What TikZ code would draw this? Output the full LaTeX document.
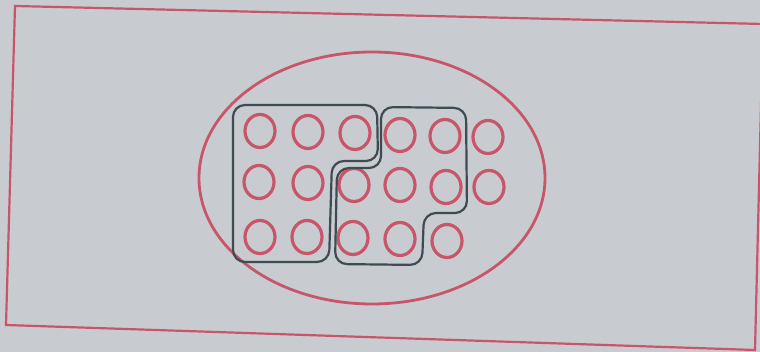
\documentclass[tikz,border=0pt]{standalone}
\usetikzlibrary{shapes.geometric}
\definecolor{bg}{HTML}{C8CBCF}
\definecolor{redl}{HTML}{C8566A}
\definecolor{grayl}{HTML}{3E4B52}
\begin{document}
\begin{tikzpicture}[x=1pt,y=-1pt,
  dot/.style={ellipse, draw=redl, line width=3.2pt, minimum width=30pt, minimum height=33pt, inner sep=0pt},
  grp/.style={draw=grayl, line width=2.2pt, rounded corners=12pt},
  frame/.style={draw=redl, line width=2.2pt}]
\fill[bg] (0,0) rectangle (760,352);
\useasboundingbox (0,0) rectangle (760,352);
% outer frame
\coordinate (tl) at (15,6);
\coordinate (tr) at (763,24);
\coordinate (br) at (755,350);
\coordinate (bl) at (6,325);
\draw[frame] (tl) -- (tr) -- (br) -- (bl) -- cycle;
% big ellipse
\node[ellipse, draw=redl, line width=2.8pt, minimum width=346pt, minimum height=252pt, inner sep=0pt] (outer) at (372,178) {};
% circles
\node[dot] (a1) at (260,131) {};
\node[dot] (a2) at (308,132) {};
\node[dot] (a3) at (355,133) {};
\node[dot] (a4) at (400,135) {};
\node[dot] (a5) at (445,136) {};
\node[dot] (a6) at (488,137) {};
\node[dot] (b1) at (259,182) {};
\node[dot] (b2) at (308,183) {};
\node[dot] (b3) at (354,185) {};
\node[dot] (b4) at (400,185) {};
\node[dot] (b5) at (446,187) {};
\node[dot] (b6) at (489,187) {};
\node[dot] (c1) at (260,237) {};
\node[dot] (c2) at (307,237) {};
\node[dot] (c3) at (353,238) {};
\node[dot] (c4) at (400,239) {};
\node[dot] (c5) at (447,241) {};
% groups
\draw[grp] (233,105) -- (377,105) -- (378,161) -- (332,161) -- (329,262) -- (233,262) -- cycle;
\draw[grp] (381,107) -- (466,108) -- (467,213) -- (424,213) -- (422,265) -- (335,264) -- (337,168) -- (381,168) -- cycle;
\end{tikzpicture}
\end{document}
